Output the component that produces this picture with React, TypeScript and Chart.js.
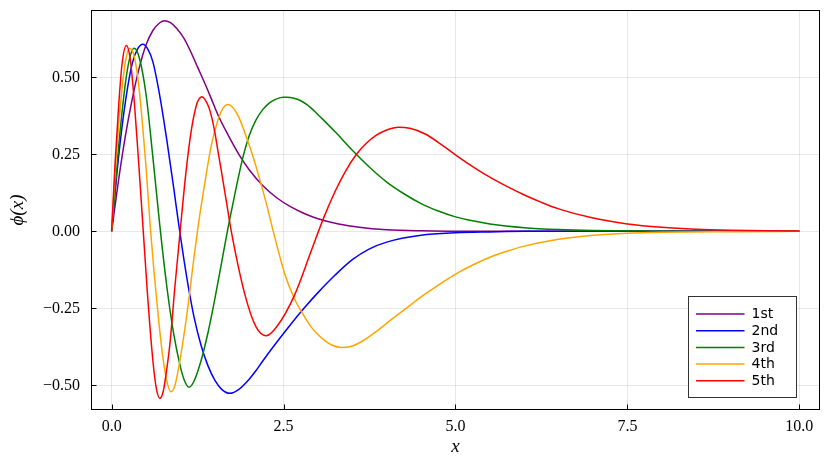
import React, { useEffect, useRef } from "react";
import { Chart, registerables } from "chart.js";

Chart.register(...registerables);

// ---------- data ----------
const seriesLabels = ["1st", "2nd", "3rd", "4th", "5th"];
const seriesColors = ["#800080", "#0000ff", "#008000", "#ffa500", "#ff0000"];

const x1 = [0, 0.1, 0.2, 0.3, 0.4, 0.5, 0.6, 0.7, 0.77, 0.85, 0.95, 1.05, 1.15, 1.25, 1.35, 1.45, 1.55, 1.7, 1.85, 2.0, 2.2, 2.4, 2.6, 2.8, 3.0, 3.3, 3.6, 4.0, 4.5, 5.0, 6.0, 8.0, 10.0];
const y1 = [0, 0.165, 0.31, 0.43, 0.53, 0.605, 0.652, 0.677, 0.684, 0.678, 0.658, 0.627, 0.583, 0.533, 0.483, 0.43, 0.376, 0.31, 0.25, 0.2, 0.148, 0.109, 0.08, 0.058, 0.041, 0.024, 0.013, 0.005, 0.0015, 0.0005, 0, 0, 0];

const x2 = [0, 0.1, 0.2, 0.3, 0.38, 0.456, 0.53, 0.6, 0.7, 0.8, 0.9, 0.98, 1.05, 1.135, 1.2, 1.3, 1.4, 1.5, 1.6, 1.72, 1.85, 2.0, 2.1, 2.2, 2.4, 2.6, 2.8, 3.0, 3.25, 3.5, 3.75, 4.0, 4.5, 5.0, 5.5, 6.0, 8.0, 10.0];
const y2 = [0, 0.24, 0.42, 0.545, 0.593, 0.607, 0.59, 0.55, 0.44, 0.3, 0.145, 0.015, -0.09, -0.205, -0.28, -0.37, -0.436, -0.483, -0.513, -0.526, -0.513, -0.48, -0.452, -0.42, -0.36, -0.303, -0.249, -0.199, -0.142, -0.092, -0.057, -0.035, -0.013, -0.005, -0.002, 0, 0, 0];

const x3 = [0, 0.1, 0.2, 0.26, 0.325, 0.4, 0.5, 0.6, 0.7, 0.8, 0.9, 1.0, 1.06, 1.125, 1.19, 1.3, 1.4, 1.5, 1.6, 1.7, 1.8, 1.9, 2.0, 2.1, 2.2, 2.3, 2.4, 2.5, 2.55, 2.65, 2.75, 2.85, 2.95, 3.1, 3.25, 3.5, 3.75, 4.0, 4.25, 4.5, 4.75, 5.0, 5.25, 5.5, 6.0, 6.5, 7.0, 8.0, 10.0];
const y3 = [0, 0.27, 0.48, 0.56, 0.594, 0.565, 0.445, 0.24, 0.02, -0.175, -0.33, -0.44, -0.485, -0.506, -0.49, -0.42, -0.33, -0.22, -0.1, 0.02, 0.13, 0.232, 0.31, 0.362, 0.396, 0.418, 0.43, 0.435, 0.435, 0.432, 0.424, 0.41, 0.39, 0.357, 0.323, 0.263, 0.208, 0.16, 0.122, 0.09, 0.066, 0.047, 0.034, 0.024, 0.012, 0.006, 0.003, 0.0005, 0];

const x4 = [0, 0.05, 0.1, 0.15, 0.2, 0.26, 0.32, 0.38, 0.44, 0.5, 0.56, 0.62, 0.68, 0.74, 0.8, 0.86, 0.92, 1.0, 1.1, 1.2, 1.26, 1.35, 1.45, 1.55, 1.62, 1.69, 1.77, 1.85, 2.0, 2.1, 2.25, 2.35, 2.52, 2.65, 2.76, 2.9, 3.0, 3.1, 3.2, 3.34, 3.5, 3.65, 3.83, 4.07, 4.31, 4.55, 4.8, 5.04, 5.28, 5.5, 5.77, 6.0, 6.5, 7.0, 7.5, 8.0, 9.0, 10.0];
const y4 = [0, 0.19, 0.34, 0.46, 0.55, 0.594, 0.575, 0.5, 0.37, 0.21, 0.02, -0.14, -0.28, -0.4, -0.483, -0.521, -0.5, -0.41, -0.26, -0.08, 0.02, 0.15, 0.28, 0.365, 0.4, 0.412, 0.4, 0.37, 0.28, 0.21, 0.09, 0.0, -0.14, -0.215, -0.261, -0.31, -0.335, -0.355, -0.369, -0.377, -0.372, -0.356, -0.328, -0.286, -0.245, -0.205, -0.167, -0.134, -0.106, -0.084, -0.063, -0.048, -0.026, -0.013, -0.006, -0.003, -0.001, 0];

const x5 = [0, 0.05, 0.1, 0.15, 0.213, 0.27, 0.33, 0.4, 0.46, 0.52, 0.6, 0.65, 0.7, 0.75, 0.8, 0.85, 0.92, 1.0, 1.08, 1.16, 1.24, 1.28, 1.31, 1.4, 1.45, 1.5, 1.55, 1.6, 1.67, 1.74, 1.94, 2.1, 2.25, 2.4, 2.66, 2.9, 3.08, 3.25, 3.4, 3.56, 3.7, 3.85, 4.0, 4.17, 4.35, 4.56, 4.8, 5.04, 5.3, 5.53, 5.79, 6.01, 6.25, 6.5, 7.0, 7.5, 8.0, 8.5, 9.0, 9.5, 10.0];
const y5 = [0, 0.22, 0.4, 0.54, 0.603, 0.56, 0.42, 0.2, 0.0, -0.2, -0.42, -0.51, -0.542, -0.52, -0.45, -0.36, -0.18, 0.01, 0.19, 0.33, 0.415, 0.432, 0.437, 0.41, 0.375, 0.322, 0.255, 0.19, 0.095, 0.0, -0.207, -0.31, -0.339, -0.31, -0.207, -0.065, 0.042, 0.13, 0.195, 0.25, 0.285, 0.312, 0.329, 0.338, 0.3335, 0.316, 0.281, 0.242, 0.203, 0.172, 0.141, 0.117, 0.094, 0.073, 0.043, 0.024, 0.013, 0.0066, 0.0032, 0.0015, 0.0007];

const seriesX = [x1, x2, x3, x4, x5];
const seriesY = [y1, y2, y3, y4, y5];

const xTicks = [0, 2.5, 5, 7.5, 10];
const xTickLabels = ["0.0", "2.5", "5.0", "7.5", "10.0"];
const yTicks = [-0.5, -0.25, 0, 0.25, 0.5];
const yTickLabels = ["\u22120.50", "\u22120.25", "0.00", "0.25", "0.50"];

const xRange = [-0.3, 10.3];
const yRange = [-0.58, 0.7185];

const SERIF = "'Liberation Serif', 'DejaVu Serif', serif";
const SANS = "'DejaVu Sans', sans-serif";

const framePlugin = {
  id: "frameAndLegend",
  afterDatasetsDraw(chart: any) {
    const { ctx, chartArea: a, scales } = chart;
    ctx.save();
    ctx.strokeStyle = "#000";
    ctx.lineWidth = 1;
    const L = Math.round(a.left) + 0.5;
    const T = Math.round(a.top) + 0.5;
    const R = Math.round(a.right) - 0.5;
    const B = Math.round(a.bottom) - 0.5;
    ctx.strokeRect(L, T, R - L, B - T);
    ctx.beginPath();
    for (const v of xTicks) {
      const px = Math.round(scales.x.getPixelForValue(v)) + 0.5;
      ctx.moveTo(px, B);
      ctx.lineTo(px, B - 5);
    }
    for (const v of yTicks) {
      const py = Math.round(scales.y.getPixelForValue(v)) + 0.5;
      ctx.moveTo(L, py);
      ctx.lineTo(L + 5, py);
    }
    ctx.stroke();

    const bw = 108;
    const bh = 101;
    const bx = Math.round(a.right - 24 - bw) + 0.5;
    const by = Math.round(a.bottom - 13 - bh) + 0.5;
    ctx.fillStyle = "#fff";
    ctx.fillRect(bx, by, bw, bh);
    ctx.strokeStyle = "#333";
    ctx.lineWidth = 1;
    ctx.strokeRect(bx, by, bw, bh);
    ctx.font = "14px " + SANS;
    ctx.textBaseline = "middle";
    ctx.textAlign = "left";
    chart.data.datasets.forEach((ds: any, i: number) => {
      const yy = by + 17.5 + i * 16.7;
      ctx.strokeStyle = ds.borderColor;
      ctx.lineWidth = 1.5;
      ctx.beginPath();
      ctx.moveTo(bx + 7.5, yy);
      ctx.lineTo(bx + 56, yy);
      ctx.stroke();
      ctx.fillStyle = "#000";
      ctx.fillText(ds.label, bx + 63, yy + 0.5);
    });
    ctx.restore();
  },
};

export default function App() {
  const ref = useRef<HTMLCanvasElement | null>(null);

  useEffect(() => {
    if (!ref.current) return;
    const datasets = seriesLabels.map((label, i) => ({
      label,
      data: seriesX[i].map((x, j) => ({ x, y: seriesY[i][j] })),
      borderColor: seriesColors[i],
      backgroundColor: seriesColors[i],
      borderWidth: 1.5,
      pointRadius: 0,
      fill: false,
      cubicInterpolationMode: "monotone" as const,
      order: seriesLabels.length - 1 - i,
    }));

    const chart = new Chart(ref.current, {
      type: "line",
      data: { datasets },
      options: {
        responsive: false,
        animation: false,
        devicePixelRatio: 1,
        layout: { padding: { left: 0, right: 10, top: 10, bottom: 0 } },
        plugins: {
          legend: { display: false },
          tooltip: { enabled: false },
        },
        scales: {
          x: {
            type: "linear",
            min: xRange[0],
            max: xRange[1],
            afterFit: (s: any) => {
              s.height = 57;
              s.paddingLeft = 0;
              s.paddingRight = 0;
            },
            afterBuildTicks: (s: any) => {
              s.ticks = xTicks.map((v) => ({ value: v }));
            },
            ticks: {
              padding: 7,
              color: "#000",
              font: { family: SERIF, size: 16 },
              maxRotation: 0,
              autoSkip: false,
              callback: (_v: any, i: number) => xTickLabels[i],
            },
            grid: { color: "rgba(0,0,0,0.09)", lineWidth: 1, drawTicks: false },
            border: { display: false },
            title: {
              display: true,
              text: "x",
              color: "#000",
              font: { family: SERIF, size: 19, style: "italic" },
              padding: { top: 0, bottom: 9 },
            },
          },
          y: {
            type: "linear",
            min: yRange[0],
            max: yRange[1],
            afterFit: (s: any) => {
              s.width = 91;
              s.paddingTop = 0;
              s.paddingBottom = 0;
            },
            afterBuildTicks: (s: any) => {
              s.ticks = yTicks.map((v) => ({ value: v }));
            },
            ticks: {
              padding: 11,
              color: "#000",
              font: { family: SERIF, size: 16 },
              autoSkip: false,
              callback: (_v: any, i: number) => yTickLabels[i],
            },
            grid: { color: "rgba(0,0,0,0.09)", lineWidth: 1, drawTicks: false },
            border: { display: false },
            title: {
              display: true,
              text: "\u03D5(x)",
              color: "#000",
              font: { family: SERIF, size: 19, style: "italic" },
              padding: { top: 7, bottom: 0 },
            },
          },
        },
      },
      plugins: [framePlugin],
    });
    return () => chart.destroy();
  }, []);

  return (
    <div style={{ position: "absolute", left: 0, top: 0, width: 830, height: 467, background: "#fff" }}>
      <canvas ref={ref} width={830} height={467} />
    </div>
  );
}
